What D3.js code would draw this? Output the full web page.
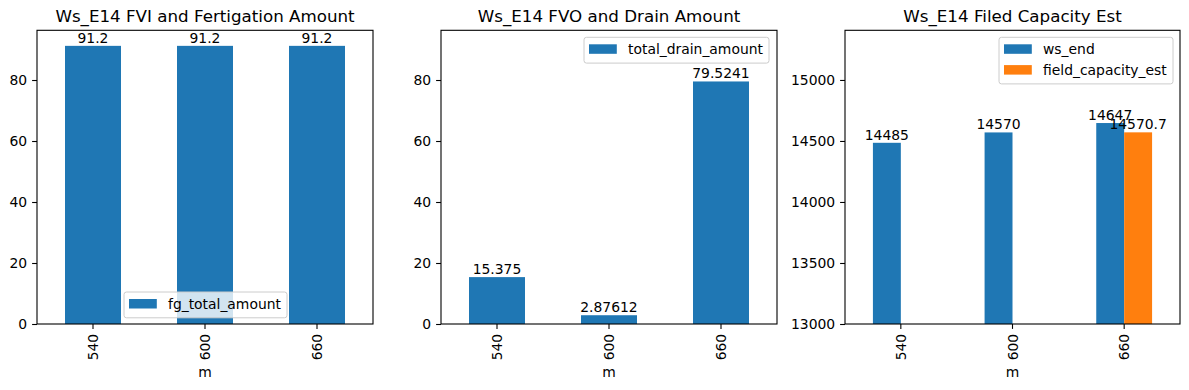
<!DOCTYPE html>
<html><head><meta charset="utf-8">
<script src="https://cdn.jsdelivr.net/npm/d3@7"></script>
<style>body{margin:0;background:#fff}svg{display:block;font-family:"DejaVu Sans",sans-serif}</style>
</head><body><svg id="c" width="1189" height="390"></svg>
<script>
const categories = ["540", "600", "660"];
const fgTotalAmount = [91.2, 91.2, 91.2];
const totalDrainAmount = [15.375, 2.87612, 79.5241];
const wsEnd = [14485, 14570, 14647];
const fieldCapacityEst = [null, null, 14570.7];
const ticks12 = [0, 20, 40, 60, 80];
const ticks3 = [13000, 13500, 14000, 14500, 15000];
const titles = ["Ws_E14 FVI and Fertigation Amount", "Ws_E14 FVO and Drain Amount", "Ws_E14 Filed Capacity Est"];

const BLUE = "#1f77b4", ORANGE = "#ff7f0e";
const svg = d3.select("#c");
const yTop = 30.3, yBottom = 324;
const FS = 13.9;

function panel(x0, x1, yDomain, yTicks, title, series, legend) {
  const g = svg.append("g");
  const x = d3.scaleBand().domain(categories).range([x0, x1]).padding(0);
  const y = d3.scaleLinear().domain(yDomain).range([yBottom, yTop]);
  const bw = x.bandwidth();
  series.forEach(s => {
    s.values.forEach((v, i) => {
      if (v == null) return;
      const c = x(categories[i]) + bw / 2;
      const bx0 = c + s.off * bw, bx1 = bx0 + s.w * bw;
      g.append("rect").attr("x", bx0).attr("y", y(v)).attr("width", bx1 - bx0)
        .attr("height", yBottom - y(v)).attr("fill", s.color);
    });
  });
  series.forEach(s => {
    s.values.forEach((v, i) => {
      if (v == null) return;
      const c = x(categories[i]) + bw / 2;
      const cx = c + s.off * bw + s.w * bw / 2;
      g.append("text").attr("x", cx).attr("y", y(v) - 3.3).attr("text-anchor", "middle")
        .attr("font-size", FS).attr("fill", "#000").text(String(v));
    });
  });
  g.append("rect").attr("x", x0).attr("y", yTop).attr("width", x1 - x0).attr("height", yBottom - yTop)
    .attr("fill", "none").attr("stroke", "#000").attr("stroke-width", 1.1);
  const ya = g.append("g").attr("transform", `translate(${x0},0)`)
    .call(d3.axisLeft(y).tickValues(yTicks).tickSize(4.9).tickPadding(4.9).tickFormat(d3.format("d")));
  ya.select(".domain").remove();
  ya.selectAll("line").attr("stroke-width", 1.1);
  ya.selectAll("text").attr("font-size", FS).attr("font-family", "DejaVu Sans").attr("fill", "#000");
  const xa = g.append("g").attr("transform", `translate(0,${yBottom})`)
    .call(d3.axisBottom(x).tickSize(4.9).tickPadding(0));
  xa.select(".domain").remove();
  xa.selectAll("line").attr("stroke-width", 1.1);
  xa.selectAll("text").attr("font-size", FS).attr("font-family", "DejaVu Sans").attr("fill", "#000")
    .attr("transform", "translate(0,9.8) rotate(-90)").attr("text-anchor", "end").attr("dy", "0.36em").attr("y", 0).attr("x", 0);
  g.append("text").attr("x", (x0 + x1) / 2).attr("y", 377).attr("text-anchor", "middle")
    .attr("font-size", FS).text("m");
  g.append("text").attr("x", (x0 + x1) / 2).attr("y", 22).attr("text-anchor", "middle")
    .attr("font-size", 16.7).text(title);
  const lg = g.append("g");
  lg.append("rect").attr("x", legend.x).attr("y", legend.y).attr("width", legend.w)
    .attr("height", 8.5 + series.length * 20.8 - 3.5).attr("rx", 2.5)
    .attr("fill", "#fff").attr("fill-opacity", 0.8).attr("stroke", "#cccccc").attr("stroke-width", 1);
  series.forEach((s, i) => {
    const ry = legend.y + 7 + i * 20.8;
    lg.append("rect").attr("x", legend.x + 5).attr("y", ry).attr("width", 27.8).attr("height", 9.5).attr("fill", s.color);
    lg.append("text").attr("x", legend.x + 44).attr("y", ry + 9.8).attr("font-size", FS).text(s.name);
  });
}

panel(37, 373, [0, 96.3], ticks12, titles[0],
  [{name: "fg_total_amount", values: fgTotalAmount, color: BLUE, off: -0.25, w: 0.5}],
  {x: 124, y: 292, w: 163});
panel(441, 777, [0, 96.3], ticks12, titles[1],
  [{name: "total_drain_amount", values: totalDrainAmount, color: BLUE, off: -0.25, w: 0.5}],
  {x: 584, y: 37.3, w: 185});
panel(845, 1180, [13000, 15407], ticks3, titles[2],
  [{name: "ws_end", values: wsEnd, color: BLUE, off: -0.25, w: 0.25},
   {name: "field_capacity_est", values: fieldCapacityEst, color: ORANGE, off: 0, w: 0.25}],
  {x: 999, y: 37.3, w: 174});
</script></body></html>
